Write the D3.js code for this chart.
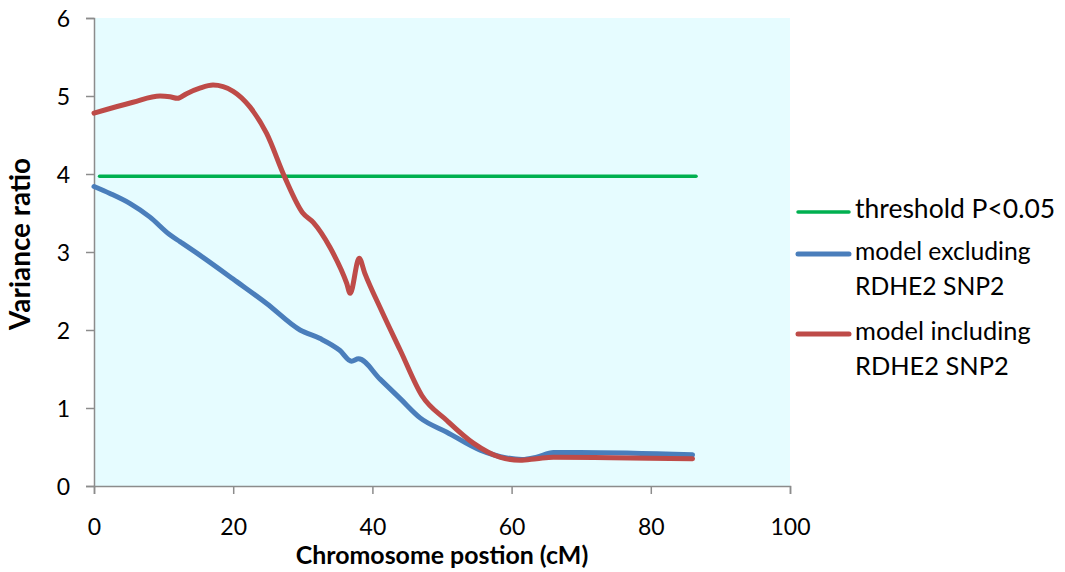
<!DOCTYPE html>
<html lang="en">
  <head>
    <meta charset="UTF-8" />
    <title>Variance ratio</title>
    <style>
      body { margin: 0; background: #fff; }
      text { font-family: Lato, "Noto Sans", sans-serif; fill: #000; }
    </style>
  </head>
  <body>
    <div id="wrapper"></div>
    <script src="https://cdnjs.cloudflare.com/ajax/libs/d3/7.8.5/d3.min.js"></script>
    <script>
      // data
      const xTicks = [0, 20, 40, 60, 80, 100];
      const yTicks = [0, 1, 2, 3, 4, 5, 6];

      const thresholdPos = [0.8, 86.5];
      const thresholdVal = [3.97, 3.97];

      const excludingPos = [0, 2.3, 5.2, 8, 10.9, 12.4, 15.2, 20.5, 24.8, 29.6, 32.5, 35.3, 37, 38, 41.1, 44, 46.9, 50.7, 55.5, 59.3, 61.5, 63.6, 66, 69.8, 86];
      const excludingVal = [3.84, 3.75, 3.62, 3.45, 3.22, 3.13, 2.96, 2.62, 2.34, 2.0, 1.89, 1.74, 1.6, 1.63, 1.37, 1.12, 0.87, 0.69, 0.46, 0.36, 0.34, 0.37, 0.43, 0.43, 0.4];

      const includingPos = [0, 5.6, 9.5, 10.9, 12, 13.3, 15.2, 17.1, 20, 22.4, 24.8, 27.4, 30, 31.5, 33.9, 36.3, 36.8, 38.1, 38.9, 41.3, 44, 47.1, 50.7, 54.5, 58.3, 61.2, 63.6, 66, 86];
      const includingVal = [4.78, 4.92, 5.0, 4.99, 4.97, 5.03, 5.1, 5.14, 5.06, 4.86, 4.52, 3.96, 3.5, 3.38, 3.06, 2.6, 2.47, 2.92, 2.73, 2.25, 1.74, 1.16, 0.84, 0.55, 0.37, 0.33, 0.35, 0.37, 0.35];

      const seriesNames = ["threshold P<0.05", "model excluding|RDHE2 SNP2", "model including|RDHE2 SNP2"];
      const seriesColors = ["#00b050", "#4a7ebb", "#be4b48"];

      const W = 1065, H = 572;
      const margin = {top: 18, left: 94, right: 275, bottom: 86};
      const width = W - margin.left - margin.right,
            height = H - margin.top - margin.bottom;

      const svg = d3.select("#wrapper").append("svg")
          .attr("width", W).attr("height", H);

      const g = svg.append("g")
          .attr("transform", "translate(" + margin.left + "," + margin.top + ")");

      const x = d3.scaleLinear().domain([0, 100]).range([0, width]);
      const y = d3.scaleLinear().domain([0, 6]).range([height, 0]);

      // scale a text's font so it spans about the width seen in the picture
      function fitWidth(t, target) {
        const size = parseFloat(t.style("font-size"));
        const w = t.node().getComputedTextLength();
        t.style("font-size", (size * target / w).toFixed(1) + "px");
      }

      // plot background
      g.append("rect")
          .attr("width", width).attr("height", height)
          .attr("fill", "#e6fcff");

      // axes
      const xAxis = g.append("g")
          .attr("transform", "translate(0," + height + ")")
          .call(d3.axisBottom(x).tickValues(xTicks).tickFormat(d3.format("d")).tickSize(8).tickPadding(25));
      const yAxis = g.append("g")
          .call(d3.axisLeft(y).tickValues(yTicks).tickFormat(d3.format("d")).tickSize(8).tickPadding(16));

      [xAxis, yAxis].forEach(function (a) {
        a.select(".domain").attr("stroke", "#8c8c8c").attr("stroke-width", 1.5);
        a.selectAll(".tick line").attr("stroke", "#8c8c8c").attr("stroke-width", 1.5);
        a.selectAll("text").style("font-size", "23px").attr("fill", "#000");
      });
      yAxis.selectAll("text").attr("dy", "0.35em");

      // lines
      const line = d3.line()
          .x(function (d) { return x(d[0]); })
          .y(function (d) { return y(d[1]); })
          .curve(d3.curveMonotoneX);

      const series = [
        {pos: thresholdPos, val: thresholdVal, w: 3.5},
        {pos: excludingPos, val: excludingVal, w: 5},
        {pos: includingPos, val: includingVal, w: 5}
      ];

      series.forEach(function (s, i) {
        g.append("path")
            .datum(d3.zip(s.pos, s.val))
            .attr("fill", "none")
            .attr("stroke", seriesColors[i])
            .attr("stroke-width", s.w)
            .attr("stroke-linecap", "round")
            .attr("stroke-linejoin", "round")
            .attr("d", line);
      });

      // axis titles
      const yTitle = svg.append("text")
          .attr("transform", "translate(30,244) rotate(-90)")
          .attr("text-anchor", "middle")
          .style("font-size", "20px").style("font-weight", "bold")
          .text("Variance ratio");
      fitWidth(yTitle, 172);

      const xTitle = svg.append("text")
          .attr("x", 442).attr("y", 564)
          .attr("text-anchor", "middle")
          .style("font-size", "20px").style("font-weight", "bold")
          .text("Chromosome postion (cM)");
      fitWidth(xTitle, 292);

      // legend
      const legendY = [212, 254, 334];
      const legend = svg.append("g");
      seriesNames.forEach(function (name, i) {
        legend.append("line")
            .attr("x1", 798).attr("x2", 849)
            .attr("y1", legendY[i]).attr("y2", legendY[i])
            .attr("stroke", seriesColors[i])
            .attr("stroke-width", series[i].w)
            .attr("stroke-linecap", "round");
        const t = legend.append("text")
            .attr("x", 855).attr("y", legendY[i] + 6)
            .style("font-size", "22px");
        const parts = name.split("|");
        parts.forEach(function (part, j) {
          t.append("tspan")
              .attr("x", 855)
              .attr("y", legendY[i] + 6 + j * 35)
              .text(part);
        });
        fitWidth(t.select("tspan"), i === 0 ? 200 : 176);
        const fs = t.select("tspan").style("font-size");
        t.selectAll("tspan").style("font-size", fs);
      });
    </script>
  </body>
</html>
